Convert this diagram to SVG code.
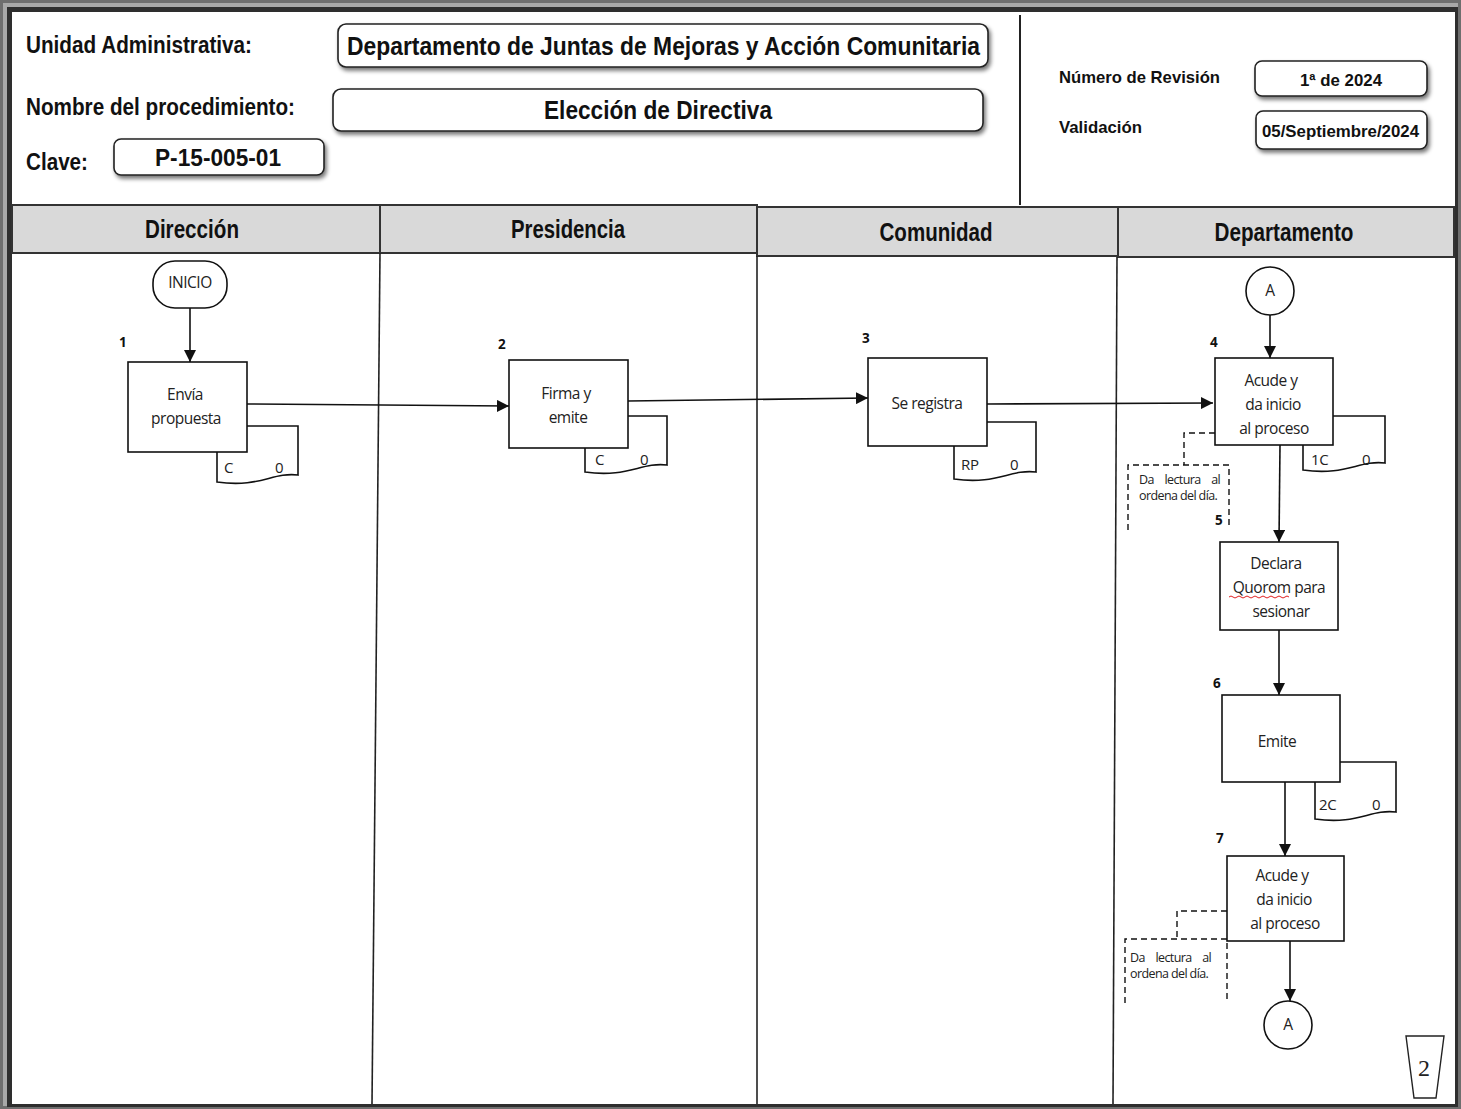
<svg xmlns="http://www.w3.org/2000/svg" width="1461" height="1109" viewBox="0 0 1461 1109">
  <style>
    .hdr { font-family: "Liberation Sans Narrow", "Liberation Sans", Arial, sans-serif; font-weight: bold; fill: #111; }
    .box { fill: #fff; stroke: #111; stroke-width: 1.6; }
    .hbox { fill: #fff; stroke: #222; stroke-width: 1.6; }
    .lbl { font-family: "Open Sans", "Noto Sans", sans-serif; font-size: 15.5px; fill: #222; text-anchor: middle; letter-spacing: -0.5px; }
    .doc { font-family: "Open Sans", "Noto Sans", sans-serif; font-size: 15px; fill: #222; letter-spacing: -0.3px; }
    .num { font-family: "Open Sans", "Noto Sans", sans-serif; font-size: 13.5px; font-weight: bold; fill: #111; }
    .note { font-family: "Open Sans", "Noto Sans", sans-serif; font-size: 12.5px; fill: #222; letter-spacing: -0.6px; }
    .line { fill: none; stroke: #111; stroke-width: 1.6; }
    .dash { fill: none; stroke: #111; stroke-width: 1.4; stroke-dasharray: 6 4; }
    .lane { fill: #d9d9d9; stroke: #333; stroke-width: 2; }
    .lanetxt { font-family: "Liberation Sans Narrow", "Liberation Sans", Arial, sans-serif; font-weight: bold; font-size: 26px; fill: #111; text-anchor: middle; }
  </style>
  <defs>
    <marker id="arrow" viewBox="0 0 10 10" refX="10" refY="5" markerWidth="12" markerHeight="12" markerUnits="userSpaceOnUse" orient="auto">
      <path d="M0,0 L10,5 L0,10 z" fill="#111"/>
    </marker>
    <filter id="shadow" x="-5%" y="-30%" width="110%" height="170%">
      <feGaussianBlur in="SourceAlpha" stdDeviation="2"/>
      <feOffset dx="2" dy="3" result="b"/>
      <feComponentTransfer><feFuncA type="linear" slope="0.55"/></feComponentTransfer>
      <feMerge><feMergeNode/><feMergeNode in="SourceGraphic"/></feMerge>
    </filter>
  </defs>

  <!-- page frame -->
  <rect x="0" y="0" width="1461" height="1109" fill="#6e6e6e"/>
  <rect x="3" y="3" width="1455" height="1103" fill="#a8a8a8"/>
  <rect x="7" y="7" width="1451" height="1100" fill="#2e2e2e"/>
  <rect x="12" y="12" width="1443" height="1092" fill="#ffffff"/>

  <!-- header block -->
  <g id="header">
    <text class="hdr" x="26" y="53" font-size="23" textLength="226" lengthAdjust="spacingAndGlyphs">Unidad Administrativa:</text>
    <text class="hdr" x="26" y="115" font-size="23" textLength="269" lengthAdjust="spacingAndGlyphs">Nombre del procedimiento:</text>
    <text class="hdr" x="26" y="170" font-size="23" textLength="62" lengthAdjust="spacingAndGlyphs">Clave:</text>

    <rect class="hbox" x="338" y="24" width="650" height="43" rx="8" filter="url(#shadow)"/>
    <text class="hdr" x="347" y="55" font-size="25" textLength="633" lengthAdjust="spacingAndGlyphs">Departamento de Juntas de Mejoras y Acción Comunitaria</text>

    <rect class="hbox" x="333" y="89" width="650" height="42" rx="8" filter="url(#shadow)"/>
    <text class="hdr" x="544" y="119" font-size="25" textLength="228" lengthAdjust="spacingAndGlyphs">Elección de Directiva</text>

    <rect class="hbox" x="114" y="139" width="210" height="36" rx="7" filter="url(#shadow)"/>
    <text class="hdr" x="155" y="166" font-size="24" textLength="126" lengthAdjust="spacingAndGlyphs">P-15-005-01</text>

    <line x1="1020" y1="15" x2="1020" y2="205" stroke="#222" stroke-width="2"/>

    <text class="hdr" x="1059" y="83" font-size="17" textLength="161" lengthAdjust="spacingAndGlyphs">Número de Revisión</text>
    <text class="hdr" x="1059" y="133" font-size="17" textLength="83" lengthAdjust="spacingAndGlyphs">Validación</text>

    <rect class="hbox" x="1255" y="61" width="172" height="35" rx="7" filter="url(#shadow)"/>
    <text class="hdr" x="1300" y="86" font-size="17" textLength="82" lengthAdjust="spacingAndGlyphs">1ª de 2024</text>

    <rect class="hbox" x="1256" y="111" width="171" height="38" rx="7" filter="url(#shadow)"/>
    <text class="hdr" x="1262" y="137" font-size="17" textLength="157" lengthAdjust="spacingAndGlyphs">05/Septiembre/2024</text>
  </g>

  <!-- swimlane headers -->
  <g id="lanes">
    <rect class="lane" x="12" y="205" width="368" height="48"/>
    <rect class="lane" x="380" y="205" width="377" height="48"/>
    <rect class="lane" x="757" y="207" width="361" height="49"/>
    <rect class="lane" x="1118" y="207" width="336" height="50"/>
    <text class="lanetxt" x="192" y="238" textLength="94" lengthAdjust="spacingAndGlyphs">Dirección</text>
    <text class="lanetxt" x="568" y="238" textLength="114" lengthAdjust="spacingAndGlyphs">Presidencia</text>
    <text class="lanetxt" x="936" y="241" textLength="113" lengthAdjust="spacingAndGlyphs">Comunidad</text>
    <text class="lanetxt" x="1284" y="241" textLength="139" lengthAdjust="spacingAndGlyphs">Departamento</text>
    <line x1="380" y1="253" x2="372" y2="1104" stroke="#222" stroke-width="1.6"/>
    <line x1="757" y1="256" x2="757" y2="1104" stroke="#222" stroke-width="1.6"/>
    <line x1="1117" y1="257" x2="1113" y2="1104" stroke="#222" stroke-width="1.6"/>
  </g>

  <!-- connectors -->
  <g id="connectors">
    <line class="line" x1="190" y1="308" x2="190" y2="362" marker-end="url(#arrow)"/>
    <line class="line" x1="247" y1="404" x2="509" y2="406" marker-end="url(#arrow)"/>
    <line class="line" x1="628" y1="401" x2="868" y2="398" marker-end="url(#arrow)"/>
    <line class="line" x1="987" y1="404" x2="1213" y2="403" marker-end="url(#arrow)"/>
    <line class="line" x1="1270" y1="315" x2="1270" y2="358" marker-end="url(#arrow)"/>
    <line class="line" x1="1280" y1="445" x2="1279" y2="542" marker-end="url(#arrow)"/>
    <line class="line" x1="1279" y1="630" x2="1279" y2="695" marker-end="url(#arrow)"/>
    <line class="line" x1="1285" y1="782" x2="1285" y2="856" marker-end="url(#arrow)"/>
    <line class="line" x1="1290" y1="941" x2="1290" y2="1001" marker-end="url(#arrow)"/>
    <!-- dashed links to notes -->
    <polyline class="dash" points="1215,433 1184,433 1184,465"/>
    <polyline class="dash" points="1227,911 1177,911 1177,939"/>
  </g>

  <!-- start -->
  <g id="inicio">
    <rect class="box" x="153" y="261" width="74" height="47" rx="22"/>
    <text class="lbl" x="190" y="288" font-size="13" letter-spacing="-1.2">INICIO</text>
  </g>

  <!-- step 1 -->
  <g id="step1">
    <text class="num" x="119" y="347">1</text>
    <path class="line" d="M247,426 H298 V475 C272,472 260,488 217,482 V452" fill="#fff"/>
    <rect class="box" x="128" y="362" width="119" height="90"/>
    <text class="lbl" x="185" y="400">Envía</text>
    <text class="lbl" x="186" y="424">propuesta</text>
    <text class="doc" x="224" y="473">C</text>
    <text class="doc" x="275" y="473">0</text>
  </g>

  <!-- step 2 -->
  <g id="step2">
    <text class="num" x="498" y="349">2</text>
    <path class="line" d="M628,416 H667 V465 C641,462 628,478 585,472 V448" fill="#fff"/>
    <rect class="box" x="509" y="360" width="119" height="88"/>
    <text class="lbl" x="566" y="399">Firma y</text>
    <text class="lbl" x="568" y="423">emite</text>
    <text class="doc" x="595" y="465">C</text>
    <text class="doc" x="640" y="465">0</text>
  </g>

  <!-- step 3 -->
  <g id="step3">
    <text class="num" x="862" y="343">3</text>
    <path class="line" d="M987,422 H1036 V472 C1010,469 997,485 954,479 V446" fill="#fff"/>
    <rect class="box" x="868" y="358" width="119" height="88"/>
    <text class="lbl" x="927" y="409">Se registra</text>
    <text class="doc" x="961" y="470">RP</text>
    <text class="doc" x="1010" y="470">0</text>
  </g>

  <!-- step 4 -->
  <g id="connectorA-top">
    <circle cx="1270" cy="291" r="24" fill="#fff" stroke="#111" stroke-width="1.6"/>
    <text class="lbl" x="1270" y="296" font-size="13">A</text>
  </g>
  <g id="step4">
    <text class="num" x="1210" y="347">4</text>
    <path class="line" d="M1333,416 H1385 V463 C1359,460 1346,476 1303,470 V445" fill="#fff"/>
    <rect class="box" x="1215" y="358" width="118" height="87"/>
    <text class="lbl" x="1271" y="386">Acude y</text>
    <text class="lbl" x="1273" y="410">da inicio</text>
    <text class="lbl" x="1274" y="434">al proceso</text>
    <text class="doc" x="1311" y="465">1C</text>
    <text class="doc" x="1362" y="465">0</text>
  </g>

  <!-- note for step 4 / step 5 -->
  <g id="note1">
    <polyline class="dash" points="1128,530 1128,465 1229,465 1229,525"/>
    <text class="note" x="1139" y="484" word-spacing="8">Da lectura al</text>
    <text class="note" x="1139" y="500">ordena del día.</text>
    <text class="num" x="1215" y="525">5</text>
  </g>

  <!-- step 5 -->
  <g id="step5">
    <rect class="box" x="1220" y="542" width="118" height="88"/>
    <text class="lbl" x="1276" y="569">Declara</text>
    <text class="lbl" x="1279" y="593">Quorom para</text>
    <path d="M1229,597 q2,-2 4,0 t4,0 t4,0 t4,0 t4,0 t4,0 t4,0 t4,0 t4,0 t4,0 t4,0 t4,0 t4,0 t4,0 t4,0" fill="none" stroke="#e02020" stroke-width="1"/>
    <text class="lbl" x="1281" y="617">sesionar</text>
  </g>

  <!-- step 6 -->
  <g id="step6">
    <text class="num" x="1213" y="688">6</text>
    <path class="line" d="M1340,762 H1396 V812 C1370,809 1358,825 1315,819 V782" fill="#fff"/>
    <rect class="box" x="1222" y="695" width="118" height="87"/>
    <text class="lbl" x="1277" y="747">Emite</text>
    <text class="doc" x="1319" y="810">2C</text>
    <text class="doc" x="1372" y="810">0</text>
  </g>

  <!-- step 7 -->
  <g id="step7">
    <text class="num" x="1216" y="843">7</text>
    <rect class="box" x="1227" y="856" width="117" height="85"/>
    <text class="lbl" x="1282" y="881">Acude y</text>
    <text class="lbl" x="1284" y="905">da inicio</text>
    <text class="lbl" x="1285" y="929">al proceso</text>
  </g>

  <!-- note for step 7 -->
  <g id="note2">
    <polyline class="dash" points="1125,1003 1125,939 1227,939 1227,1000"/>
    <text class="note" x="1130" y="962" word-spacing="8">Da lectura al</text>
    <text class="note" x="1130" y="978">ordena del día.</text>
  </g>

  <g id="connectorA-bottom">
    <circle cx="1288" cy="1025" r="24" fill="#fff" stroke="#111" stroke-width="1.6"/>
    <text class="lbl" x="1288" y="1030" font-size="13">A</text>
  </g>

  <!-- page marker -->
  <g id="page">
    <path d="M1406,1036 H1444 L1436,1098 H1414 Z" fill="#fff" stroke="#222" stroke-width="1.4"/>
    <text x="1424" y="1076" font-family="Liberation Serif, serif" font-size="24" fill="#222" text-anchor="middle">2</text>
  </g>
</svg>
